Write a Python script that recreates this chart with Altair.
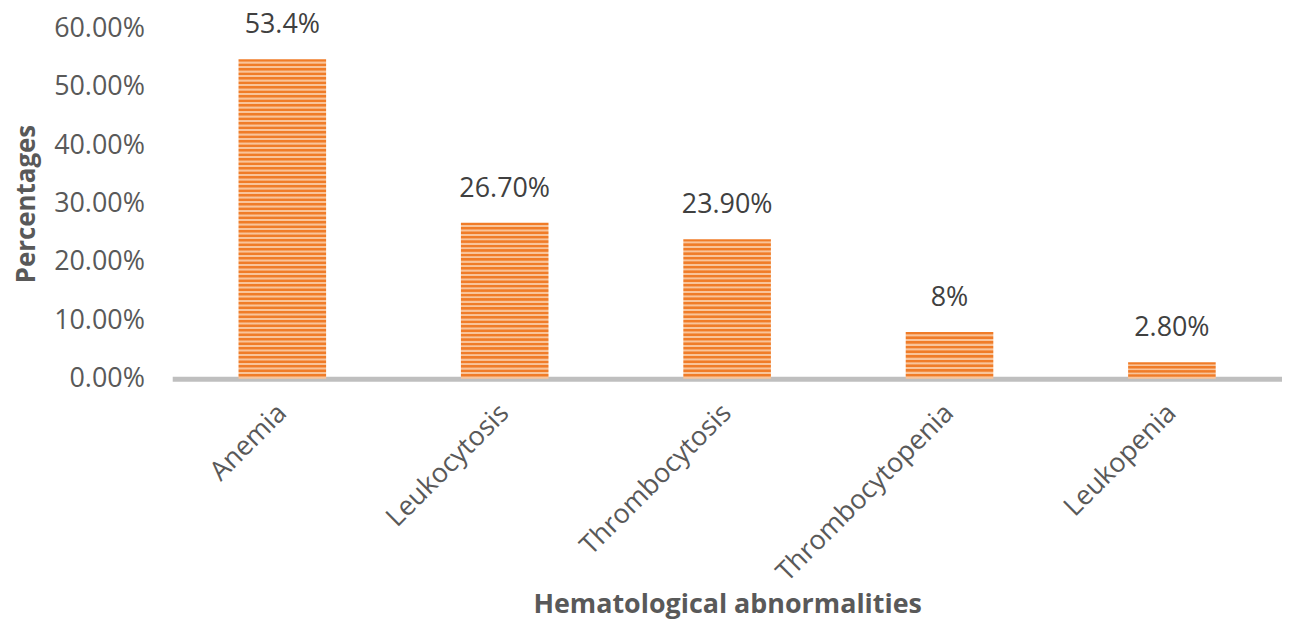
import altair as alt
import pandas as pd

categories = ["Anemia", "Leukocytosis", "Thrombocytosis", "Thrombocytopenia", "Leukopenia"]
values = [0.547, 0.267, 0.239, 0.08, 0.028]
labels = ["53.4%", "26.70%", "23.90%", "8%", "2.80%"]

df = pd.DataFrame({"cat": categories, "val": values, "lab": labels})

FONT = "Open Sans"
DARK = "#F07C28"
LIGHT = "#F9C49A"
STRIPES_PER_UNIT = 130


def stripe_gradient(v):
    n = max(2, round(v * STRIPES_PER_UNIT))
    stops = []
    for i in range(n):
        a = i / n
        b = (i + 0.5) / n
        stops.append({"offset": a, "color": DARK})
        stops.append({"offset": a + 0.4 / n, "color": DARK})
        stops.append({"offset": b + 0.1 / n, "color": LIGHT})
        stops.append({"offset": min(1.0, (i + 0.9) / n), "color": LIGHT})
    return {"gradient": "linear", "x1": 0, "y1": 0, "x2": 0, "y2": 1, "stops": stops}


x_enc = alt.X(
    "cat:N",
    sort=categories,
    scale=alt.Scale(domain=categories, paddingInner=0.61, paddingOuter=0.3),
    axis=alt.Axis(
        title="Hematological abnormalities",
        labelAngle=-45,
        labelAlign="right",
        labelBaseline="middle",
        labelFontSize=27,
        labelColor="#595959",
        labelFont=FONT,
        labelPadding=30,
        labelLimit=0,
        ticks=False,
        domainColor="#BFBFBF",
        domainWidth=5,
        titleFont=FONT,
        titleFontSize=27,
        titleFontWeight="bold",
        titleColor="#595959",
        titlePadding=14,
    ),
)
y_enc = alt.Y(
    "val:Q",
    scale=alt.Scale(domain=[0, 0.6]),
    axis=alt.Axis(
        title="Percentages",
        format=".2%",
        values=[0, 0.1, 0.2, 0.3, 0.4, 0.5, 0.6],
        grid=False,
        domain=False,
        ticks=False,
        labelFontSize=27,
        labelColor="#595959",
        labelFont=FONT,
        labelPadding=28,
        titleFont=FONT,
        titleFontSize=26,
        titleFontWeight="bold",
        titleColor="#595959",
        titlePadding=14,
    ),
)

base = alt.Chart(df)
layers = []
for c, v in zip(categories, values):
    layers.append(
        base.transform_filter(alt.datum.cat == c)
        .mark_bar(color=stripe_gradient(v), size=88)
        .encode(x=x_enc, y=y_enc)
    )

text = base.mark_text(
    dy=-34, fontSize=27, font=FONT, color="#404040", baseline="middle"
).encode(x=x_enc, y=y_enc, text="lab:N")

chart = (
    alt.layer(*layers, text)
    .properties(
        width=1115,
        height=352,
        padding={"left": 165, "top": 19, "right": 0, "bottom": 250},
        autosize=alt.AutoSizeParams(type="none"),
    )
    .configure_view(stroke=None)
)

chart.save("out.html", embed_options={"renderer": "svg", "actions": False})
